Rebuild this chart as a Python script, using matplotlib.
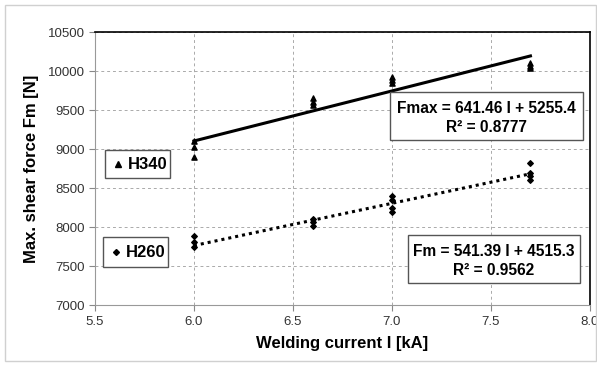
import matplotlib.pyplot as plt
from matplotlib.patches import Rectangle

# measured shear force values, H340 (triangles)
h340_current = [6.0, 6.0, 6.0, 6.6, 6.6, 6.6, 7.0, 7.0, 7.0, 7.7, 7.7, 7.7]
h340_force = [9100, 9030, 8900, 9660, 9600, 9560, 9930, 9890, 9850, 10100, 10070, 10040]

# measured shear force values, H260 (diamonds)
h260_current = [6.0, 6.0, 6.0, 6.6, 6.6, 6.6, 7.0, 7.0, 7.0, 7.0, 7.7, 7.7, 7.7, 7.7]
h260_force = [7880, 7810, 7750, 8110, 8060, 8010, 8400, 8350, 8240, 8200, 8820, 8700, 8660, 8610]

# linear trend lines
fit_range = [6.0, 7.7]
h340_slope, h340_icpt = 641.46, 5255.4
h260_slope, h260_icpt = 541.39, 4515.3

x_ticks = [5.5, 6.0, 6.5, 7.0, 7.5, 8.0]
y_ticks = [7000, 7500, 8000, 8500, 9000, 9500, 10000, 10500]

plt.rcParams['font.family'] = ['Liberation Sans', 'DejaVu Sans']

fig = plt.figure(figsize=(5.97, 3.65), dpi=100)
fig.patches.append(Rectangle((0.008, 0.012), 0.99, 0.975, transform=fig.transFigure,
                             fill=False, edgecolor='#d0d0d0', lw=1))
ax = fig.add_axes([0.159, 0.164, 0.829, 0.748])

ax.set_xlim(5.5, 8.0)
ax.set_ylim(7000, 10500)
ax.set_xticks(x_ticks)
ax.set_yticks(y_ticks)
ax.set_xticklabels([f'{v:.1f}' for v in x_ticks])
ax.grid(True, linestyle=(0, (3, 3)), color='#aaaaaa', lw=0.7)
ax.tick_params(labelsize=9.5, colors='#333333', length=4, color='#888888')
for s in ['left', 'bottom']:
    ax.spines[s].set_color('#999999')
for s in ['top', 'right']:
    ax.spines[s].set_color('black')
    ax.spines[s].set_linewidth(1.2)

ax.scatter(h340_current, h340_force, marker='^', s=14, color='black', zorder=3)
ax.scatter(h260_current, h260_force, marker='D', s=8, color='black', zorder=3)

ax.plot(fit_range, [h340_slope * x + h340_icpt for x in fit_range],
        color='black', lw=2.2, zorder=2)
ax.plot(fit_range, [h260_slope * x + h260_icpt for x in fit_range],
        color='black', lw=2.2, linestyle=(0, (1, 1.3)), zorder=2)

ax.set_xlabel('Welding current I [kA]', fontsize=12, fontweight='bold', labelpad=6)
ax.set_ylabel('Max. shear force Fm [N]', fontsize=12, fontweight='bold', labelpad=6)


def add_box(x0, y0, x1, y1):
    ax.add_patch(Rectangle((x0, y0), x1 - x0, y1 - y0, transform=ax.transAxes,
                           facecolor='white', edgecolor='#555555', lw=1,
                           zorder=5, clip_on=False))


eq_size = 11.2

# trend line equations
add_box(0.596, 0.604, 0.986, 0.780)
ax.text(0.791, 0.722, f'Fmax = {h340_slope} I + {h340_icpt}', transform=ax.transAxes,
        ha='center', va='center', fontsize=eq_size, fontweight='bold', zorder=6)
ax.text(0.791, 0.650, 'R² = 0.8777', transform=ax.transAxes,
        ha='center', va='center', fontsize=eq_size, fontweight='bold', zorder=6)

add_box(0.632, 0.081, 0.980, 0.256)
ax.text(0.806, 0.198, f'Fm = {h260_slope} I + {h260_icpt}', transform=ax.transAxes,
        ha='center', va='center', fontsize=eq_size, fontweight='bold', zorder=6)
ax.text(0.806, 0.128, 'R² = 0.9562', transform=ax.transAxes,
        ha='center', va='center', fontsize=eq_size, fontweight='bold', zorder=6)

# legend boxes
add_box(0.020, 0.465, 0.152, 0.568)
ax.plot([0.046], [0.516], marker='^', ms=4, color='black', transform=ax.transAxes,
        zorder=6, clip_on=False)
ax.text(0.066, 0.516, 'H340', transform=ax.transAxes, ha='left', va='center',
        fontsize=12, fontweight='bold', zorder=6)

add_box(0.016, 0.139, 0.147, 0.249)
ax.plot([0.042], [0.194], marker='D', ms=3, color='black', transform=ax.transAxes,
        zorder=6, clip_on=False)
ax.text(0.062, 0.194, 'H260', transform=ax.transAxes, ha='left', va='center',
        fontsize=12, fontweight='bold', zorder=6)

fig.savefig('out.png', dpi=100)
